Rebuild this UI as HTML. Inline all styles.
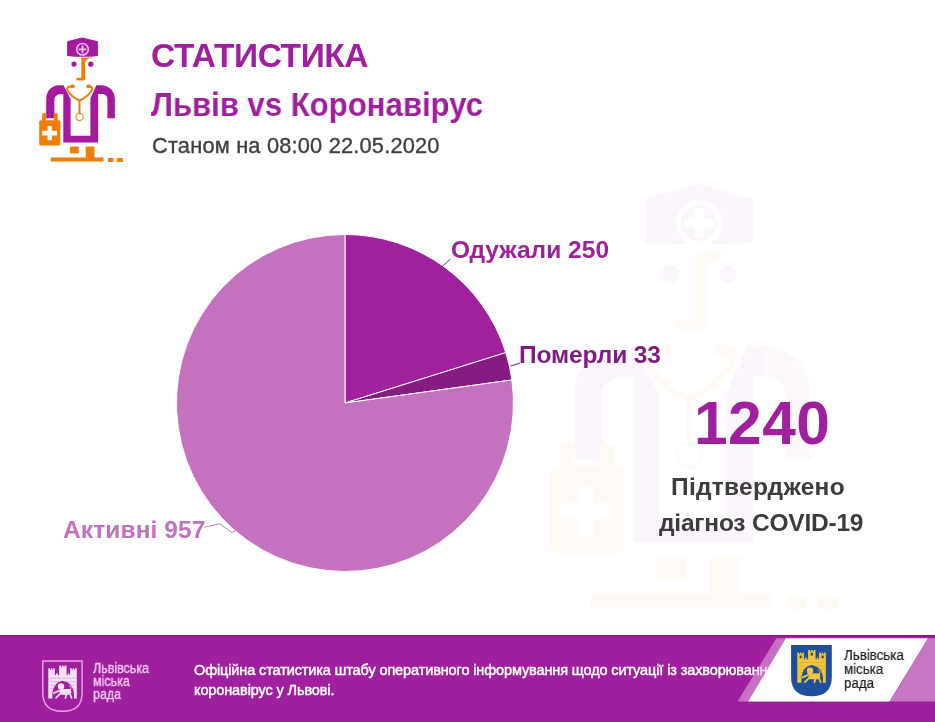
<!DOCTYPE html>
<html lang="uk">
<head>
<meta charset="utf-8">
<title>Статистика Львів vs Коронавірус</title>
<style>
html,body{margin:0;padding:0;background:#fff;}
body{width:935px;height:722px;position:relative;overflow:hidden;font-family:"Liberation Sans",Arial,sans-serif;}
svg.bg{position:absolute;left:0;top:0;}
.t{position:absolute;white-space:nowrap;line-height:1;margin:0;will-change:transform;}
.b{font-weight:bold;}
#t1{left:151.4px;top:38.9px;font-size:33.5px;letter-spacing:-0.42px;color:#a01f9e;}
#t2{left:151.0px;top:87.8px;font-size:33.0px;letter-spacing:0px;transform:scaleX(0.9427);transform-origin:0 0;color:#a01f9e;}
#t3{left:151.7px;top:134.6px;font-size:21.8px;letter-spacing:0.19px;color:#3f3f3f;-webkit-text-stroke:0.35px #3f3f3f;}
#l1{left:451.0px;top:237.7px;font-size:24.5px;letter-spacing:0.02px;color:#9c219b;}
#l2{left:519.2px;top:342.9px;font-size:24.5px;letter-spacing:-0.13px;color:#7f1d7d;}
#l3{left:63.0px;top:517.8px;font-size:24.5px;letter-spacing:0.11px;color:#c272bf;}
#n{left:694.0px;top:392.6px;font-size:60.5px;letter-spacing:0.43px;color:#a01f9e;}
#s1{left:671.2px;top:474.5px;font-size:24.5px;letter-spacing:0.27px;color:#3c3c3c;}
#s2{left:659.4px;top:511.4px;font-size:24.5px;letter-spacing:-0.21px;color:#3c3c3c;}
#f1{left:194px;top:660.2px;font-size:14.5px;color:#fff;line-height:20.4px;font-weight:normal;-webkit-text-stroke:0.45px #fff;letter-spacing:-0.12px;}
.cond{position:absolute;white-space:nowrap;transform-origin:0 0;will-change:transform;}
#g1{left:93px;top:661.6px;color:#f8d0f6;-webkit-text-stroke:0.3px #f8d0f6;font-size:14.2px;line-height:13.1px;transform:scaleX(0.879);}
#g2{left:844px;top:648.2px;color:#1b1b1b;-webkit-text-stroke:0.2px #1b1b1b;font-size:15.2px;line-height:14.15px;transform:scaleX(0.877);}
</style>
</head>
<body>
<svg class="bg" width="935" height="722" viewBox="0 0 935 722">
  <!-- watermark doctor -->
  <g id="wm" opacity="0.033" transform="translate(415.7,54.1) scale(3.44,3.43)">
    <g fill="#a31a9f">
      <path d="M66.7 42.9Q66.7 42 67.7 41.8L81.9 37.7L97.1 41.8Q98.1 42 98.1 42.9L98.1 55.1Q82.4 55.9 66.7 55.1Z"/>
      <circle cx="74" cy="64.1" r="2.6"/>
      <circle cx="90.8" cy="64.2" r="2.6"/>
      <path d="M63.5 85.3L70.6 98.9L70.6 135.8L90.4 135.8L90.4 98.6L96.3 85.3L101 85.3C108.5 85.3 114.9 91 114.9 99L114.9 118.3L107.4 118.3L107.4 99.5C107.4 96.3 105.5 94 102 94L98.1 94L98.1 142.4L63.3 142.4L63.3 94.3L60 94.3C56.8 94.3 54.4 96.8 54.4 100L54.4 118.3L46.2 118.3L46.2 99C46.2 91 52 85.3 59 85.3Z"/>
    </g>
    <g fill="#fff" stroke="none">
      <circle cx="82.4" cy="49.3" r="6.7"/>
    </g>
    <circle cx="82.4" cy="49.3" r="5.2" fill="#a31a9f"/>
    <path d="M78 49.3H86.8M82.4 44.9V53.7" stroke="#fff" stroke-width="2.6"/>
    <g fill="#ef7d0a">
      <path d="M81.3 57.6L92.5 57.6C88.5 58.2 85.1 60 85.1 63.5L85.1 79Q85.1 80.4 83.7 80.4L77.6 80.4Q76.2 80.4 76.2 79Q76.2 77.7 77.6 77.7L81.3 77.7Z"/>
      <path d="M42.2 113.3H45.9V121H42.2ZM53.8 113.3H57.7V121H53.8Z"/>
      <rect x="39.2" y="120.2" width="21.2" height="25.3" rx="1.5"/>
      <rect x="70.1" y="146.6" width="8.7" height="6.9" rx="0.6"/>
      <rect x="85.7" y="146.6" width="8.7" height="12" rx="0.6"/>
      <rect x="50.8" y="157.5" width="52.7" height="4.1" rx="0.5"/>
      <rect x="108" y="158" width="5.5" height="3.9" rx="0.5"/>
      <rect x="117" y="158" width="5.9" height="3.9" rx="0.5"/>
    </g>
    <g fill="none" stroke="#ef7d0a" stroke-linecap="round" stroke-linejoin="round">
      <path d="M73.6 86.3L69 86.8Q66.3 87.5 67.6 90.5Q71 96.5 79.5 100.6Q88 96.5 91.6 90.5Q93.2 87.5 90.5 86.8L87.4 86.3" stroke-width="2"/>
      <path d="M79.5 100.6V113.3" stroke-width="2"/>
      <circle cx="79.5" cy="116.9" r="3.6" stroke-width="1.1"/>
    </g>
    <g fill="#ef7d0a">
      <rect x="70.2" y="84.6" width="4.4" height="3.4" rx="1.5"/>
      <rect x="86.6" y="84.6" width="4.4" height="3.4" rx="1.5"/>
    </g>
    <g fill="#fff">
      <rect x="42.2" y="130.8" width="15" height="4.7" rx="0.8"/>
      <rect x="47.5" y="126.1" width="4.4" height="14.1" rx="0.8"/>
    </g>
  </g>

  <!-- small doctor icon -->
  <g id="icon">
    <g fill="#a31a9f">
      <path d="M67.1 42.2Q67.1 41.3 68.1 41.1L81.9 37.5L96.9 41.1Q97.9 41.3 97.9 42.2L97.9 55.9Q82.5 57.8 67.1 55.9Z"/>
      <circle cx="74" cy="64.1" r="2.6"/>
      <circle cx="90.8" cy="64.2" r="2.6"/>
      <path d="M63.5 85.3L70.6 98.9L70.6 135.8L90.4 135.8L90.4 98.6L96.3 85.3L101 85.3C108.5 85.3 114.9 91 114.9 99L114.9 118.3L107.4 118.3L107.4 99.5C107.4 96.3 105.5 94 102 94L98.1 94L98.1 142.4L63.3 142.4L63.3 94.3L60 94.3C56.8 94.3 54.4 96.8 54.4 100L54.4 118.3L46.2 118.3L46.2 99C46.2 91 52 85.3 59 85.3Z"/>
    </g>
    <circle cx="82.5" cy="49.3" r="5.8" fill="none" stroke="#f6c2f4" stroke-width="1.5"/>
    <path d="M78.6 49.3H86.4M82.5 45.4V53.2" stroke="#f6c2f4" stroke-width="1.8"/>
    <g fill="#ef7d0a">
      <path d="M81.3 57.6L92.5 57.6C88.5 58.2 85.1 60 85.1 63.5L85.1 79Q85.1 80.4 83.7 80.4L77.6 80.4Q76.2 80.4 76.2 79Q76.2 77.7 77.6 77.7L81.3 77.7Z"/>
      <path d="M42.2 113.3H45.9V121H42.2ZM53.8 113.3H57.7V121H53.8Z"/>
      <rect x="39.2" y="120.2" width="21.2" height="25.3" rx="1.5"/>
      <rect x="70.1" y="146.6" width="8.7" height="6.9" rx="0.6"/>
      <rect x="85.7" y="146.6" width="8.7" height="12" rx="0.6"/>
      <rect x="50.8" y="157.5" width="52.7" height="4.1" rx="0.5"/>
      <rect x="108" y="158" width="5.5" height="3.9" rx="0.5"/>
      <rect x="117" y="158" width="5.9" height="3.9" rx="0.5"/>
    </g>
    <g fill="none" stroke="#ef7d0a" stroke-linecap="round" stroke-linejoin="round">
      <path d="M73.6 86.3L69 86.8Q66.3 87.5 67.6 90.5Q71 96.5 79.5 100.6Q88 96.5 91.6 90.5Q93.2 87.5 90.5 86.8L87.4 86.3" stroke-width="2"/>
      <path d="M79.5 100.6V113.3" stroke-width="2"/>
      <circle cx="79.5" cy="116.9" r="3.6" stroke-width="1.1"/>
    </g>
    <g fill="#ef7d0a">
      <rect x="70.2" y="84.6" width="4.4" height="3.4" rx="1.5"/>
      <rect x="86.6" y="84.6" width="4.4" height="3.4" rx="1.5"/>
    </g>
    <g fill="#fff">
      <rect x="42.2" y="130.8" width="15" height="4.7" rx="0.8"/>
      <rect x="47.5" y="126.1" width="4.4" height="14.1" rx="0.8"/>
    </g>
  </g>

  <!-- pie chart: center (345,403) r 168.5 -->
  <g id="pie" stroke="#fff" stroke-width="1" stroke-linejoin="round">
    <path d="M345 403L345 234.5A168.5 168.5 0 0 1 505.8 352.6Z" fill="#a0209e"/>
    <path d="M345 403L505.8 352.6A168.5 168.5 0 0 1 511.9 380Z" fill="#871b84"/>
    <path d="M345 403L511.9 380A168.5 168.5 0 1 1 345 234.5Z" fill="#c472c0"/>
  </g>
  <!-- leader lines -->
  <path d="M440 268.5L450.6 258.9" stroke="#8a2a88" stroke-width="1" fill="none"/>
  <path d="M510.5 366L520 363.2" stroke="#6e1f6c" stroke-width="1" fill="none"/>
  <path d="M204.4 527.3L219.6 523.8L231.8 532.4L237 530" stroke="#b58ab3" stroke-width="1" fill="none"/>

  <!-- footer -->
  <rect x="0" y="635" width="935" height="87" fill="#a01f9e"/>
  <rect x="0" y="635" width="935" height="1.2" fill="#7a1a78"/>
</svg>

<div class="t b" id="t1">СТАТИСТИКА</div>
<div class="t b" id="t2">Львів vs Коронавірус</div>
<div class="t" id="t3">Станом на 08:00 22.05.2020</div>
<div class="t b" id="l1">Одужали 250</div>
<div class="t b" id="l2">Померли 33</div>
<div class="t b" id="l3">Активні 957</div>
<div class="t b" id="n">1240</div>
<div class="t b" id="s1">Підтверджено</div>
<div class="t b" id="s2">діагноз COVID-19</div>

<div class="t" id="f1">Офіційна статистика штабу оперативного інформування щодо ситуації із захворюванням на<br>коронавірус у Львові.</div>

<svg class="bg" width="935" height="722" viewBox="0 0 935 722">
  <polygon points="776.3,638.3 785.8,638.3 747.9,701.8 737.4,701.8" fill="#f0c0ee" fill-opacity="0.5"/>
  <polygon points="785.8,638.3 928.1,638.3 889.4,701.8 747.9,701.8" fill="#fff"/>
  <polygon points="928.1,638.3 935,638.3 935,701.8 889.4,701.8" fill="#c676c2"/>
  <rect x="737" y="701.8" width="198" height="0.8" fill="#8a1c88"/>
  <!-- right coat of arms -->
  <g id="arms">
    <path d="M791.1 645H831.8V677Q831.8 696.3 811.5 696.3Q791.1 696.3 791.1 677Z" fill="#1d4f9c"/>
    <path d="M797.3 682.8V652.6H799V654H800V652.6H801.3V654H802.3V652.6H803.9V659.3H805V657.6H806.6V659.3H808.1V649.9H810V651.4H811V649.9H812.6V651.4H813.6V649.9H815.5V659.3H816.8V657.6H818.2V659.3H819.1V652.6H820.8V654H821.8V652.6H823.1V654H824.1V652.6H825.8V682.8H823V677Q821.5 666.5 811.4 665.1Q803 666.5 801.4 677V682.8Z" fill="#f3c63f"/>
    <path d="M798.6 662.5H824.5M798.6 666H809M814 666H824.5M798.6 669.5H803.6M819.5 669.5H824.5M798.6 673H802.4M821 673H824.5M798.6 676.5H802M822 676.5H824.5" stroke="#c99a1f" stroke-width="0.5"/>
    <path d="M799.6 655.6h2v2.6h-2zM810.8 652.8h2v2.8h-2zM821.6 655.6h2v2.6h-2z" fill="#3a3a1a"/>
    <g fill="#f3c63f" stroke="#f3c63f" stroke-linecap="round">
      <ellipse cx="810" cy="670.9" rx="3.2" ry="3.3" stroke="none"/>
      <path d="M808.4 673.8Q814 672.8 819.6 673.4Q821.1 676 819.6 678.9Q814 679.7 808.8 678.9Z" stroke="none"/>
      <path d="M808 675L802.6 677.4M809.6 677.4L805 682.2M815.6 678.2L814.4 682.2M819 678L820.6 682.2" stroke-width="1.8" fill="none"/>
      <path d="M819.4 674.4Q821.6 672 818.6 669.6" stroke-width="0.9" fill="none"/>
    </g>
  </g>
  <!-- left outline coat of arms -->
  <g transform="translate(-749,15.7)">
    <path d="M791.8 645.3H831.1V677Q831.1 695.6 811.5 695.6Q791.8 695.6 791.8 677Z" fill="none" stroke="#e9a8e8" stroke-width="1.4"/>
    <path d="M797.3 682.8V652.6H799V654H800V652.6H801.3V654H802.3V652.6H803.9V659.3H805V657.6H806.6V659.3H808.1V649.9H810V651.4H811V649.9H812.6V651.4H813.6V649.9H815.5V659.3H816.8V657.6H818.2V659.3H819.1V652.6H820.8V654H821.8V652.6H823.1V654H824.1V652.6H825.8V682.8H823V677Q821.5 666.5 811.4 665.1Q803 666.5 801.4 677V682.8Z" fill="#f9e2f8"/>
    <path d="M798.6 662.5H824.5M798.6 666H809M814 666H824.5M798.6 669.5H803.6M819.5 669.5H824.5M798.6 673H802.4M821 673H824.5M798.6 676.5H802M822 676.5H824.5" stroke="#c98ac8" stroke-width="0.5"/>
    <g fill="#f9e2f8" stroke="#f5d3f4" stroke-linecap="round">
      <ellipse cx="810" cy="670.9" rx="3.2" ry="3.3" stroke="none"/>
      <path d="M808.4 673.8Q814 672.8 819.6 673.4Q821.1 676 819.6 678.9Q814 679.7 808.8 678.9Z" stroke="none"/>
      <path d="M808 675L802.6 677.4M809.6 677.4L805 682.2M815.6 678.2L814.4 682.2M819 678L820.6 682.2" stroke-width="1.8" fill="none"/>
      <path d="M819.4 674.4Q821.6 672 818.6 669.6" stroke-width="0.9" fill="none"/>
    </g>
  </g>
</svg>
<div class="cond" id="g1">Львівська<br>міська<br>рада</div>
<div class="cond" id="g2">Львівська<br>міська<br>рада</div>
</body>
</html>
